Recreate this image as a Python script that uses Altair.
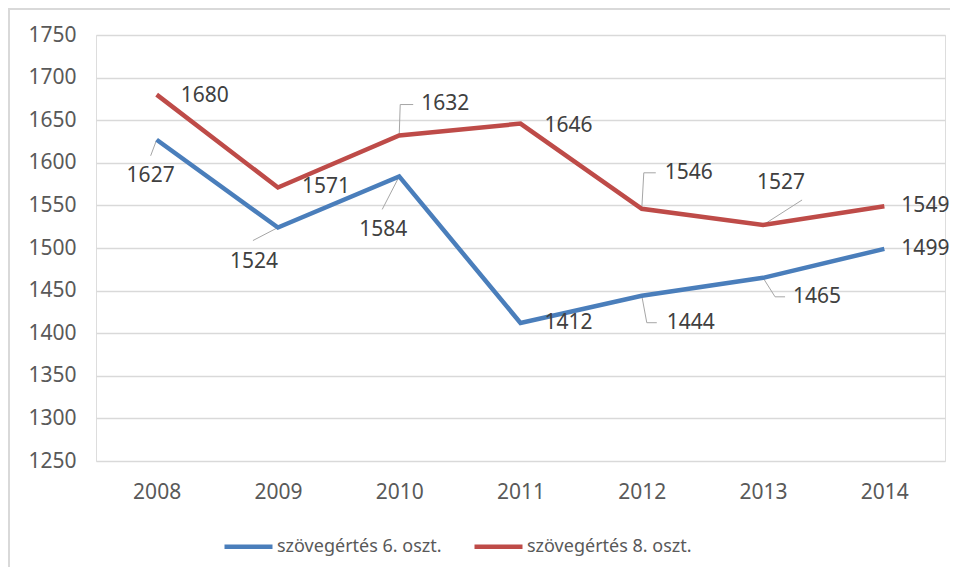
import altair as alt
import pandas as pd

years = [2008, 2009, 2010, 2011, 2012, 2013, 2014]
series_names = ["szövegértés 6. oszt.", "szövegértés 8. oszt."]
grade6 = [1627, 1524, 1584, 1412, 1444, 1465, 1499]
grade8 = [1680, 1571, 1632, 1646, 1546, 1527, 1549]
y_ticks = [1250, 1300, 1350, 1400, 1450, 1500, 1550, 1600, 1650, 1700, 1750]

# label placement (pixel offsets from the point) and alignment
lab6_dx = [-6, -24, -16, 24, 25, 30, 17]
lab6_dy = [36, 34, 54, 0, 27, 19, 0]
lab6_al = ["center", "center", "center", "left", "left", "left", "left"]
lab8_dx = [24, 24, 22, 24, 23, 18, 17]
lab8_dy = [1, -1, -32, 2, -36, -42, 0]
lab8_al = ["left", "left", "left", "left", "left", "center", "left"]

# leader lines: (series index, year index, list of pixel offsets)
leaders = [
    (0, 0, [(0, 0), (-6, 16)]),
    (0, 1, [(0, 0), (-25, 13)]),
    (0, 2, [(0, 0), (-17, 33)]),
    (0, 4, [(0, 0), (5, 27), (15, 27)]),
    (0, 5, [(0, 0), (12, 19), (22, 19)]),
    (1, 2, [(0, 0), (1, -31), (14, -31)]),
    (1, 4, [(0, 0), (2, -36), (14, -36)]),
    (1, 5, [(0, 0), (39, -25)]),
]

W, H = 849, 426
X0, X1 = 2007.5, 2014.5
Y0, Y1 = 1250, 1750
px_year = W / (X1 - X0)
px_unit = H / (Y1 - Y0)

BLUE, RED = "#4A7EBB", "#BE4B48"
FONT = "Noto Sans"

vals = [grade6, grade8]
rows = []
for s, v in enumerate(vals):
    for i, y in enumerate(years):
        rows.append({"year": y, "value": v[i], "series": series_names[s]})
df = pd.DataFrame(rows)

lab_rows = []
for s, (dxs, dys, als) in enumerate([(lab6_dx, lab6_dy, lab6_al), (lab8_dx, lab8_dy, lab8_al)]):
    for i, y in enumerate(years):
        lab_rows.append({
            "lx": y + dxs[i] / px_year,
            "ly": vals[s][i] - dys[i] / px_unit,
            "text": str(vals[s][i]),
            "align": als[i],
        })
lab = pd.DataFrame(lab_rows)

ld_rows = []
for k, (s, i, pts) in enumerate(leaders):
    for j, (dx, dy) in enumerate(pts):
        ld_rows.append({
            "id": k, "ord": j,
            "lx": years[i] + dx / px_year,
            "ly": vals[s][i] - dy / px_unit,
        })
ld = pd.DataFrame(ld_rows)

xscale = alt.Scale(domain=[X0, X1], nice=False, zero=False)
yscale = alt.Scale(domain=[Y0, Y1], nice=False, zero=False)

xaxis = alt.Axis(values=years, format="d", title=None, grid=False, domain=False, ticks=False,
                 labelFontSize=21, labelColor="#595959", labelFont=FONT, labelPadding=20,
                 labelFlush=False)
yaxis = alt.Axis(values=y_ticks, format="d", title=None, grid=True, gridColor="#D9D9D9",
                 gridWidth=1.3, domain=False, ticks=False, labelFontSize=21,
                 labelColor="#595959", labelFont=FONT, labelPadding=20)

border = alt.Chart(pd.DataFrame({"a": [0]})).mark_rect(
    fill=None, stroke="#D9D9D9", strokeWidth=2
).encode(x=alt.value(-87), x2=alt.value(1000), y=alt.value(-26), y2=alt.value(700))

lines = alt.Chart(df).mark_line(strokeWidth=4.5).encode(
    x=alt.X("year:Q", scale=xscale, axis=xaxis),
    y=alt.Y("value:Q", scale=yscale, axis=yaxis),
    color=alt.Color("series:N",
                    scale=alt.Scale(domain=series_names, range=[BLUE, RED]),
                    legend=alt.Legend(title=None, orient="none", direction="horizontal",
                                      legendX=126, legendY=485, symbolType="stroke",
                                      symbolSize=2304, symbolStrokeWidth=4.5,
                                      labelFontSize=18, labelFont=FONT, labelColor="#595959",
                                      labelLimit=0, labelOffset=2, columnPadding=23,
                                      padding=0)),
)

leader_lines = alt.Chart(ld).mark_line(color="#A6A6A6", strokeWidth=1).encode(
    x=alt.X("lx:Q", scale=xscale),
    y=alt.Y("ly:Q", scale=yscale),
    detail="id:N",
    order="ord:Q",
)

text_left = alt.Chart(lab).transform_filter(alt.datum.align == "left").mark_text(
    align="left", baseline="middle", fontSize=21, font=FONT, color="#404040"
).encode(x=alt.X("lx:Q", scale=xscale), y=alt.Y("ly:Q", scale=yscale), text="text:N")

text_center = alt.Chart(lab).transform_filter(alt.datum.align == "center").mark_text(
    align="center", baseline="middle", fontSize=21, font=FONT, color="#404040"
).encode(x=alt.X("lx:Q", scale=xscale), y=alt.Y("ly:Q", scale=yscale), text="text:N")

chart = alt.layer(border, leader_lines, lines, text_left, text_center).properties(
    width=W, height=H,
    autosize=alt.AutoSizeParams(type="none"),
    padding={"left": 88, "top": 27, "right": 5, "bottom": 106},
).configure_view(stroke=None).configure(background="white")

chart.save("out.html", embed_options={"renderer": "svg", "actions": False})
